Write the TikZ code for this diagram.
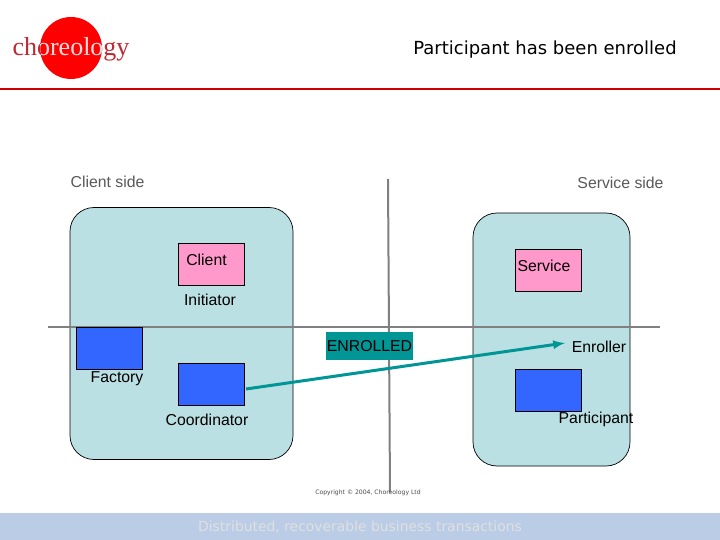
\documentclass[tikz,border=0pt]{standalone}
\usepackage{fontspec}
\setmainfont{Liberation Sans}
\newfontfamily\versefont{DejaVu Sans}
\newfontfamily\logofont{Liberation Serif}
\definecolor{sidefill}{RGB}{187,224,227}
\definecolor{pinkfill}{RGB}{255,153,204}
\definecolor{bluefill}{RGB}{51,102,255}
\definecolor{tealfill}{RGB}{0,150,150}
\definecolor{rulegray}{RGB}{128,128,128}
\definecolor{logored}{RGB}{255,0,0}
\definecolor{logotext}{RGB}{190,40,50}
\definecolor{footfill}{RGB}{186,204,230}
\tikzset{
  x=1pt,y=-1pt,
  sidebox/.style={draw=black,fill=sidefill,rounded corners=24pt,line width=0.7pt,inner sep=0pt},
  pinkbox/.style={draw=black,fill=pinkfill,line width=0.6pt,inner sep=0pt,minimum width=66pt,minimum height=42pt},
  bluebox/.style={draw=black,fill=bluefill,line width=0.6pt,inner sep=0pt,minimum width=66pt,minimum height=42pt},
  lbl/.style={inner sep=0pt,font=\fontsize{15.8}{18}\selectfont},
  greylbl/.style={lbl,text=black!65},
  logolbl/.style={inner sep=0pt,font=\logofont\fontsize{26}{28}\selectfont},
  cross/.style={draw=rulegray,line width=2pt},
}
\begin{document}
\begin{tikzpicture}
\useasboundingbox (0,0) rectangle (720,540);
\fill[white] (0,0) rectangle (720,540);
%logo
\node[circle,fill=logored,inner sep=0pt,minimum size=62pt] (logodisc) at (71,48) {};
\node[logolbl,text=logotext] (logoword) at (71,49) {choreology};
\begin{scope}
\clip (71,48) circle (31pt);
\node[logolbl,text=white!85!red] (logoinner) at (71,49) {choreology};
\end{scope}
\draw[draw=red!80!black,line width=1.6pt] (0,89) -- (720,89);
\node[inner sep=0pt,font=\versefont\fontsize{18}{20}\selectfont] (title) at (545,50) {Participant has been enrolled};
%sides
\node[sidebox,minimum width=223pt,minimum height=252pt] (clientside) at (181.5,333.5) {};
\node[sidebox,minimum width=157pt,minimum height=253pt] (serviceside) at (551.5,339.5) {};
\node[greylbl] (clientlbl) at (107.5,181.5) {Client side};
\node[greylbl] (servicelbl) at (620.5,182.5) {Service side};
%cross lines
\coordinate (crosstop) at (388,179);
\coordinate (crossbot) at (390,492);
\coordinate (crossleft) at (48,326.5);
\coordinate (crossright) at (660,326.5);
\draw[cross] (crosstop) -- (crossbot);
\draw[cross] (crossleft) -- (crossright);
%boxes
\node[pinkbox] (client) at (211,264.5) {};
\node[pinkbox] (service) at (548.5,270.5) {};
\node[bluebox] (factory) at (109.5,348) {};
\node[bluebox] (coordinator) at (211,384) {};
\node[bluebox] (participant) at (548,390.5) {};
\node[lbl] (clienttxt) at (206.5,259.5) {Client};
\node[lbl] (servicetxt) at (544,266) {Service};
\node[lbl] (initiator) at (210,299.5) {Initiator};
\node[lbl] (factorytxt) at (117,379) {Factory};
\node[lbl] (coordtxt) at (207,419.5) {Coordinator};
\node[lbl] (enroller) at (599,346.5) {Enroller};
\node[lbl] (parttxt) at (596,419) {Participant};
\node[fill=tealfill,lbl,minimum width=87pt,minimum height=28pt] (enrolled) at (369.5,346) {ENROLLED};
%arrow
\coordinate (arrowstart) at (246,389);
\coordinate (arrowend) at (565,343);
\draw[draw=tealfill,line width=3pt,-latex] (arrowstart) -- (arrowend);
%footer
\node[inner sep=0pt,text=black!70,font=\versefont\fontsize{6.1}{7}\selectfont] (copyright) at (368,492.5) {Copyright © 2004, Choreology Ltd};
\fill[footfill] (0,513) rectangle (720,540);
\node[inner sep=0pt,text=white!88!black,font=\versefont\fontsize{13.9}{16}\selectfont] (footer) at (360,527) {Distributed, recoverable business transactions};
\end{tikzpicture}
\end{document}
